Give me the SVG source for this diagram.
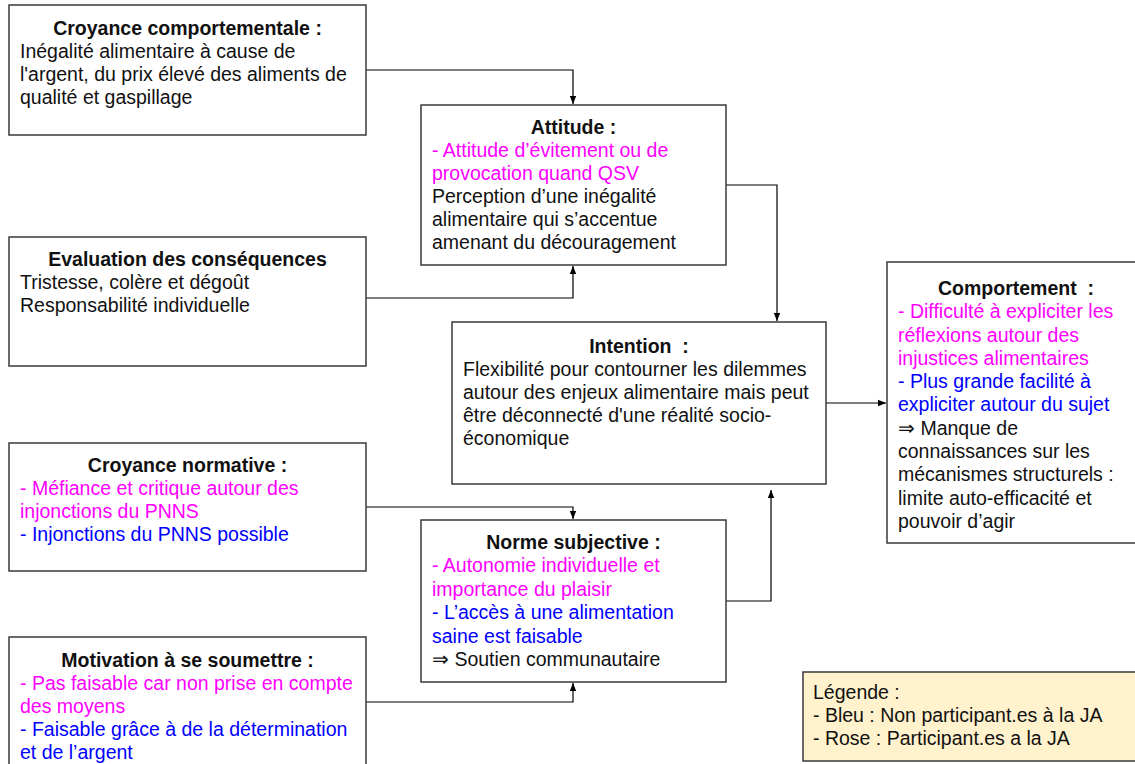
<svg xmlns="http://www.w3.org/2000/svg" width="1135" height="764" viewBox="0 0 1135 764">
  <defs>
    <marker id="arrow" viewBox="0 0 8 8" refX="8" refY="4" markerWidth="8" markerHeight="8" markerUnits="userSpaceOnUse" orient="auto">
      <path d="M0,0.8 L8,4 L0,7.2 z" fill="#000"/>
    </marker>
  </defs>
  <style>
    .box { fill: #ffffff; stroke: #3a3a3a; stroke-width: 1.5; }
    .legend { fill: #fff2cc; stroke: #3a3a3a; stroke-width: 1.5; }
    .link { fill: none; stroke: #000; stroke-width: 1.2; marker-end: url(#arrow); }
    text { font-family: "Liberation Sans", Arial, sans-serif; font-size: 19.5px; fill: #111; white-space: pre; }
    .title { font-weight: bold; text-anchor: middle; }
    .pink { fill: #ff00ff; }
    .blue { fill: #0000ff; }
  </style>

  <rect width="1135" height="764" fill="#ffffff"/>

  <!-- connectors -->
  <g id="connectors">
    <path class="link" d="M366,70 H573 V104"/>
    <path class="link" d="M366,298 H573 V266"/>
    <path class="link" d="M726,185 H777 V321"/>
    <path class="link" d="M826,403 H886"/>
    <path class="link" d="M366,507 H573 V519"/>
    <path class="link" d="M366,702 H573 V683"/>
    <path class="link" d="M726,601 H771 V490"/>
  </g>

  <g id="croyance-comportementale">
    <rect class="box" x="9" y="5" width="357" height="130"/>
    <text class="title" x="187.5" y="35">Croyance comportementale :</text>
    <text x="20" y="58">Inégalité alimentaire à cause de</text>
    <text x="20" y="81">l'argent, du prix élevé des aliments de</text>
    <text x="20" y="104">qualité et gaspillage</text>
  </g>

  <g id="attitude">
    <rect class="box" x="421" y="105" width="305" height="160"/>
    <text class="title" x="573.5" y="134">Attitude :</text>
    <text class="pink" x="432" y="157">- Attitude d’évitement ou de</text>
    <text class="pink" x="432" y="180">provocation quand QSV</text>
    <text x="432" y="203">Perception d’une inégalité</text>
    <text x="432" y="226">alimentaire qui s’accentue</text>
    <text x="432" y="249">amenant du découragement</text>
  </g>

  <g id="evaluation-consequences">
    <rect class="box" x="9" y="237" width="357" height="129"/>
    <text class="title" x="187.5" y="266">Evaluation des conséquences</text>
    <text x="20" y="289">Tristesse, colère et dégoût</text>
    <text x="20" y="312">Responsabilité individuelle</text>
  </g>

  <g id="intention">
    <rect class="box" x="452" y="322" width="374" height="162"/>
    <text class="title" x="639" y="353">Intention  :</text>
    <text x="463" y="376">Flexibilité pour contourner les dilemmes</text>
    <text x="463" y="399">autour des enjeux alimentaire mais peut</text>
    <text x="463" y="422">être déconnecté d'une réalité socio-</text>
    <text x="463" y="445">économique</text>
  </g>

  <g id="comportement">
    <rect class="box" x="887" y="262" width="265" height="281"/>
    <text class="title" x="1016" y="295">Comportement  :</text>
    <text class="pink" x="898" y="318">- Difficulté à expliciter les</text>
    <text class="pink" x="898" y="342">réflexions autour des</text>
    <text class="pink" x="898" y="365">injustices alimentaires</text>
    <text class="blue" x="898" y="388">- Plus grande facilité à</text>
    <text class="blue" x="898" y="411">expliciter autour du sujet</text>
    <text x="898" y="435">⇒ Manque de</text>
    <text x="898" y="458">connaissances sur les</text>
    <text x="898" y="481">mécanismes structurels :</text>
    <text x="898" y="505">limite auto-efficacité et</text>
    <text x="898" y="528">pouvoir d’agir</text>
  </g>

  <g id="croyance-normative">
    <rect class="box" x="9" y="443" width="357" height="128"/>
    <text class="title" x="187.5" y="472">Croyance normative :</text>
    <text class="pink" x="20" y="495">- Méfiance et critique autour des</text>
    <text class="pink" x="20" y="518">injonctions du PNNS</text>
    <text class="blue" x="20" y="541">- Injonctions du PNNS possible</text>
  </g>

  <g id="norme-subjective">
    <rect class="box" x="421" y="520" width="305" height="162"/>
    <text class="title" x="573.5" y="549">Norme subjective :</text>
    <text class="pink" x="432" y="572">- Autonomie individuelle et</text>
    <text class="pink" x="432" y="596">importance du plaisir</text>
    <text class="blue" x="432" y="619">- L’accès à une alimentation</text>
    <text class="blue" x="432" y="643">saine est faisable</text>
    <text x="432" y="666">⇒ Soutien communautaire</text>
  </g>

  <g id="motivation-soumettre">
    <rect class="box" x="9" y="637" width="357" height="140"/>
    <text class="title" x="187.5" y="667">Motivation à se soumettre :</text>
    <text class="pink" x="20" y="690">- Pas faisable car non prise en compte</text>
    <text class="pink" x="20" y="713">des moyens</text>
    <text class="blue" x="20" y="736">- Faisable grâce à de la détermination</text>
    <text class="blue" x="20" y="759">et de l’argent</text>
  </g>

  <g id="legende">
    <rect class="legend" x="803" y="672" width="349" height="89"/>
    <text x="813" y="699">Légende :</text>
    <text x="813" y="722">- Bleu : Non participant.es à la JA</text>
    <text x="813" y="745">- Rose : Participant.es a la JA</text>
  </g>
</svg>
